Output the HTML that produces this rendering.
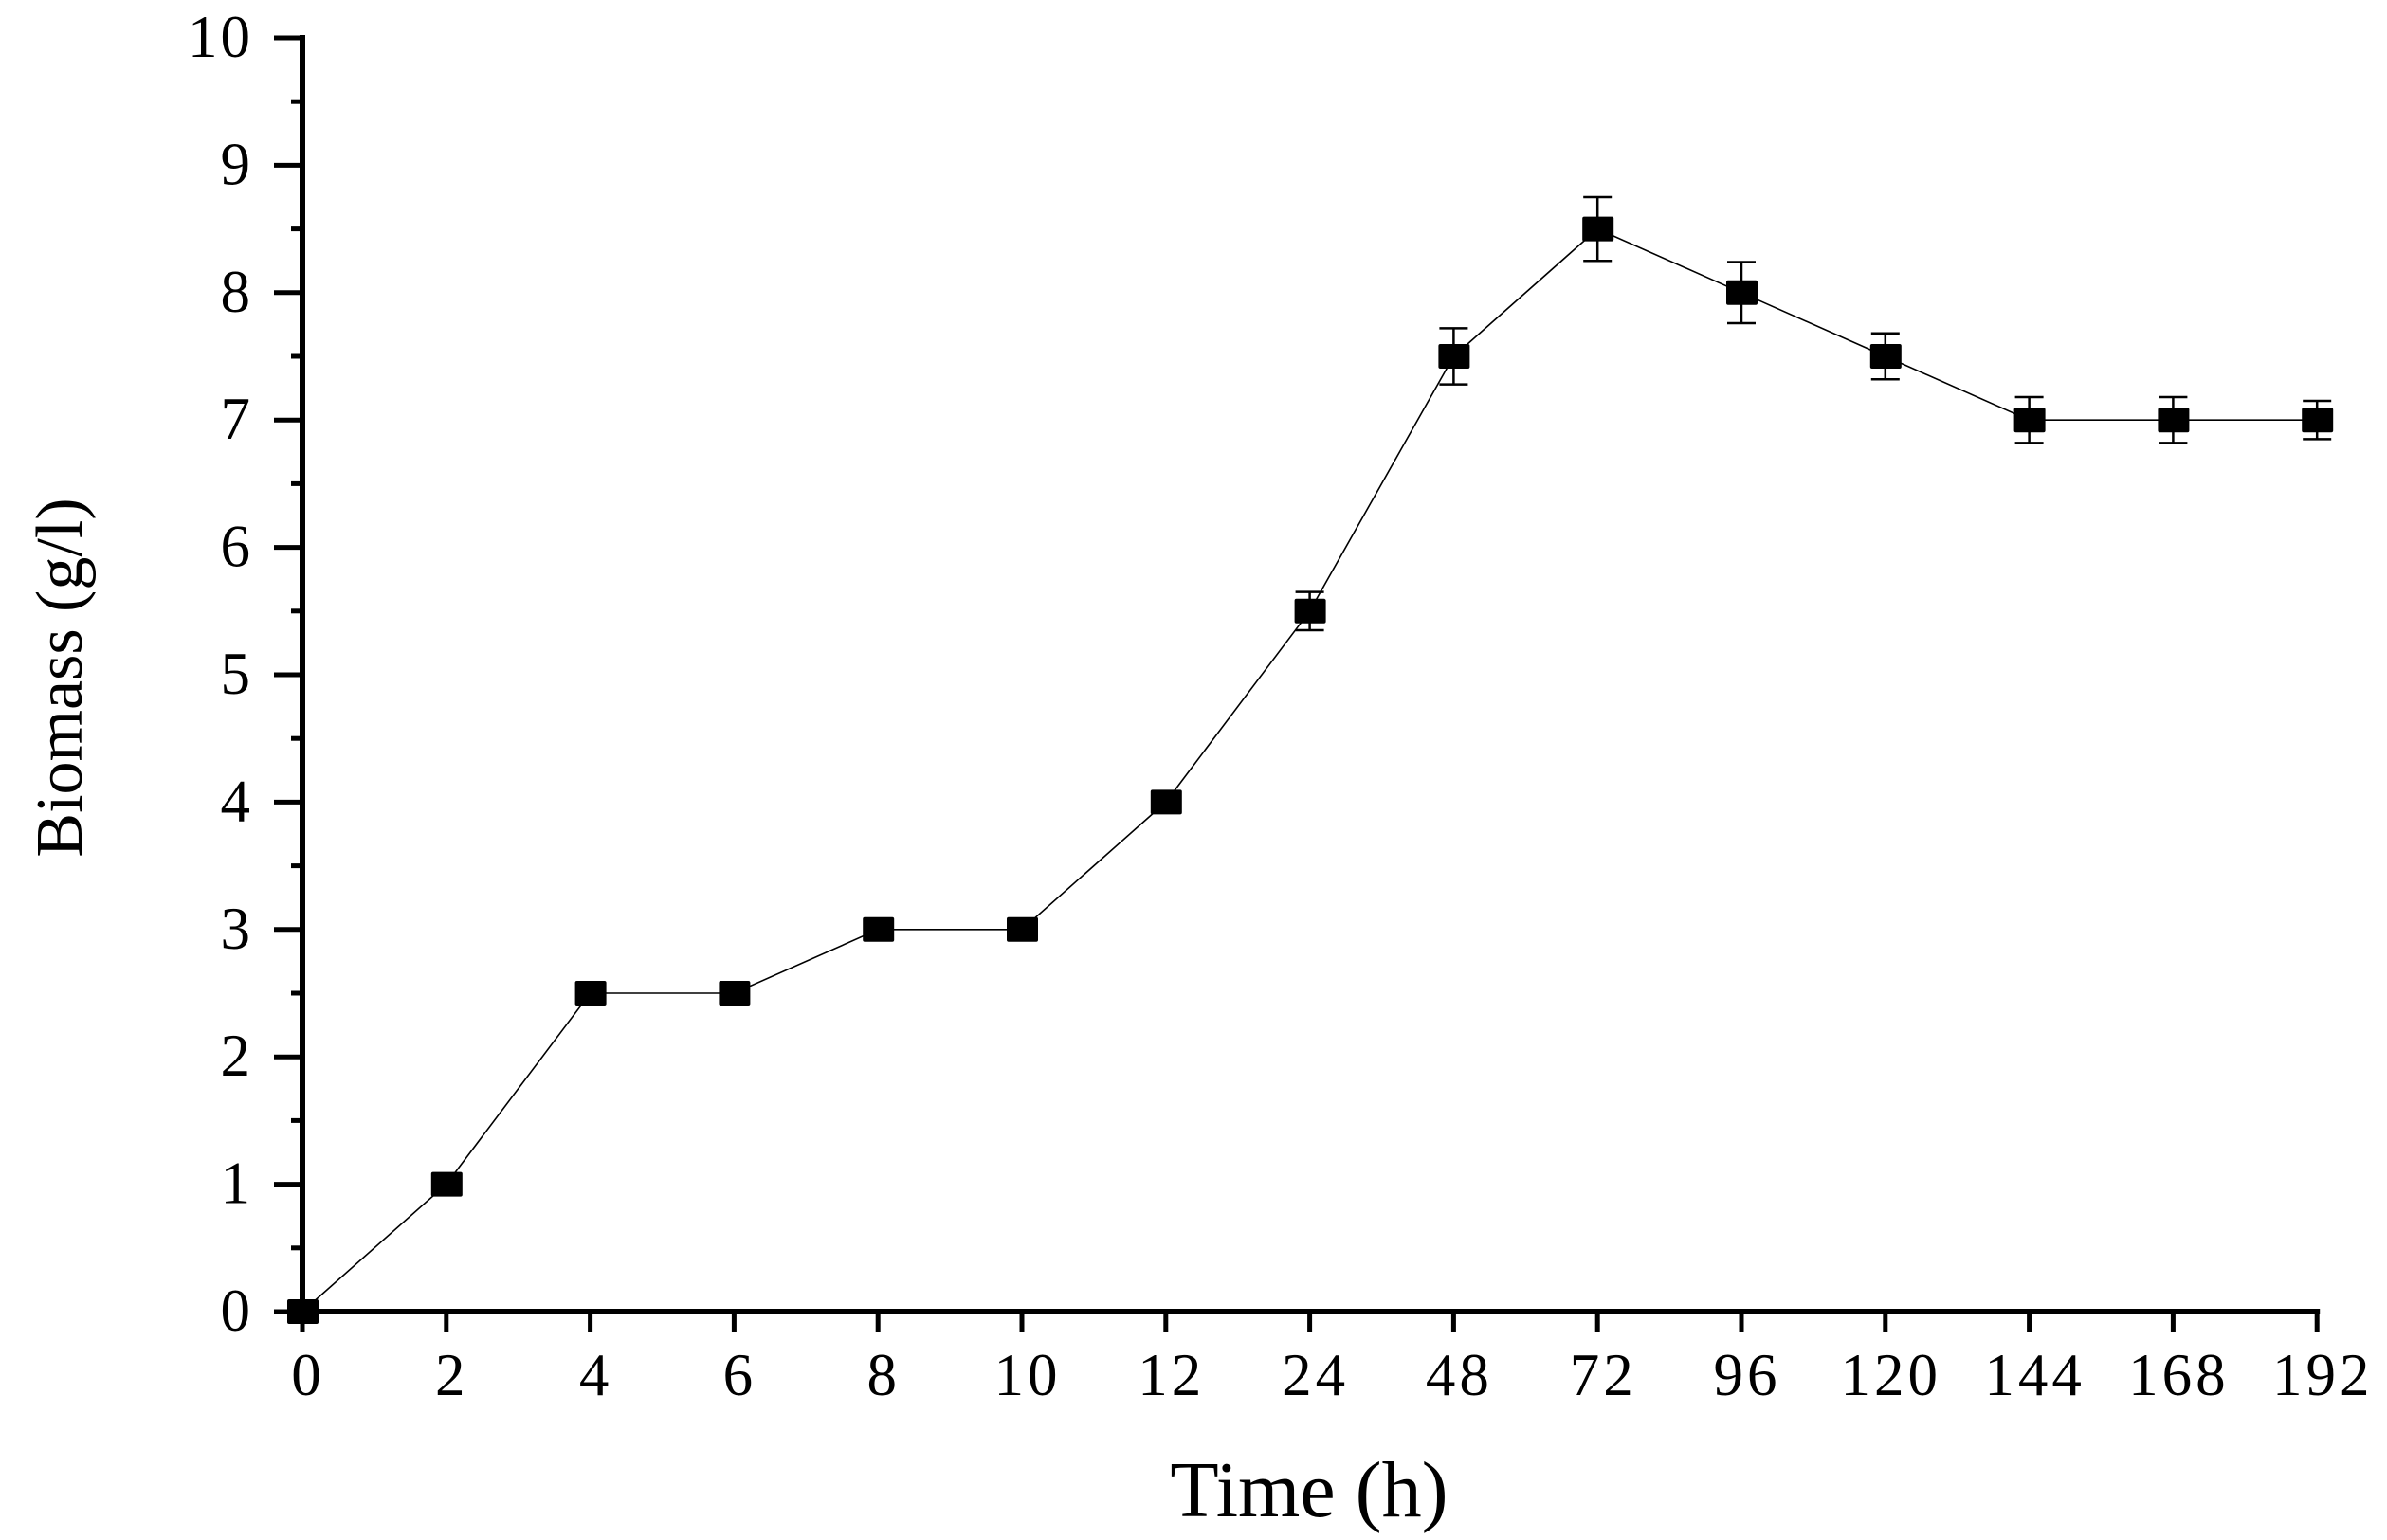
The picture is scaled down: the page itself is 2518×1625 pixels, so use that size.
<!DOCTYPE html>
<html><head><meta charset="utf-8"><style>
html,body{margin:0;padding:0;background:#fff;}
svg{display:block;font-family:"Liberation Serif",serif;}
</style></head><body>
<svg id="chart" width="2518" height="1625" viewBox="0 0 2518 1625" xmlns="http://www.w3.org/2000/svg">
<g id="axes"></g>
<g id="series"></g>
<text x="1381" y="1600" font-size="84" text-anchor="middle">Time (h)</text>
<text x="0" y="0" font-size="70" text-anchor="middle" transform="translate(86,715) rotate(-90)">Biomass (g/l)</text>
</svg>
<script>
const categories = ["0","2","4","6","8","10","12","24","48","72","96","120","144","168","192"];
const values = [0,1,2.5,2.5,3,3,4,5.5,7.5,8.5,8,7.5,7,7,7];
const errors = [0,0,0,0,0,0,0,0.15,0.22,0.25,0.24,0.18,0.18,0.18,0.15];
const yTicks = [0,1,2,3,4,5,6,7,8,9,10];

const NS="http://www.w3.org/2000/svg";
const x0=319, dx=151.8, yBase=1384, yTop=40;
function xPos(i){return x0+i*dx;}
function yPos(v){return yBase-(v/10)*(yBase-yTop);}
function mk(tag,attrs,parent){const e=document.createElementNS(NS,tag);for(const k in attrs)e.setAttribute(k,attrs[k]);parent.appendChild(e);return e;}
const axes=document.getElementById('axes');
const series=document.getElementById('series');

let l=mk('line',{x1:x0,y1:yTop-3,x2:x0,y2:yBase+3,stroke:'#000','stroke-width':6},axes);


l=mk('line',{x1:x0-3,y1:yBase,x2:xPos(categories.length-1)+3,y2:yBase,stroke:'#000','stroke-width':6},axes);



yTicks.forEach(v=>{
  const y=yPos(v);
  const t=mk('line',{x1:x0-30,y1:y,x2:x0,y2:y,stroke:'#000','stroke-width':5},axes);
  
  
  const tx=mk('text',{x:x0-52,y:y+20,'font-size':63,'letter-spacing':3,'text-anchor':'end'},axes);
  tx.textContent=String(v);
  
  
  if(v<10){
    const m=mk('line',{x1:x0-12,y1:yPos(v+0.5),x2:x0,y2:yPos(v+0.5),stroke:'#000','stroke-width':5},axes);
    
    
  }
});
categories.forEach((c,i)=>{
  const x=xPos(i);
  const t=mk('line',{x1:x,y1:yBase,x2:x,y2:yBase+22,stroke:'#000','stroke-width':5},axes);
  
  
  const tx=mk('text',{x:x+6,y:yBase+88,'font-size':63,'letter-spacing':4,'text-anchor':'middle'},axes);
  tx.textContent=c;
  
  
});

const pts=values.map((v,i)=>xPos(i)+','+yPos(v)).join(' ');
const pl=mk('polyline',{points:pts,fill:'none',stroke:'#000','stroke-width':1.6},series);



values.forEach((v,i)=>{
  const x=xPos(i), y=yPos(v), e=errors[i];
  if(e>0){
    const g=mk('g',{},series);
    
    
    const yt=yPos(v+e), yb=yPos(v-e);
    mk('line',{x1:x,y1:yt,x2:x,y2:yb,stroke:'#000','stroke-width':2.5},g);
    mk('line',{x1:x-15,y1:yt,x2:x+15,y2:yt,stroke:'#000','stroke-width':2.5},g);
    mk('line',{x1:x-15,y1:yb,x2:x+15,y2:yb,stroke:'#000','stroke-width':2.5},g);
  }
  const r=mk('rect',{x:x-16,y:y-13,width:33,height:26,rx:2,fill:'#000'},series);
  
  
});
</script>
</body></html>
